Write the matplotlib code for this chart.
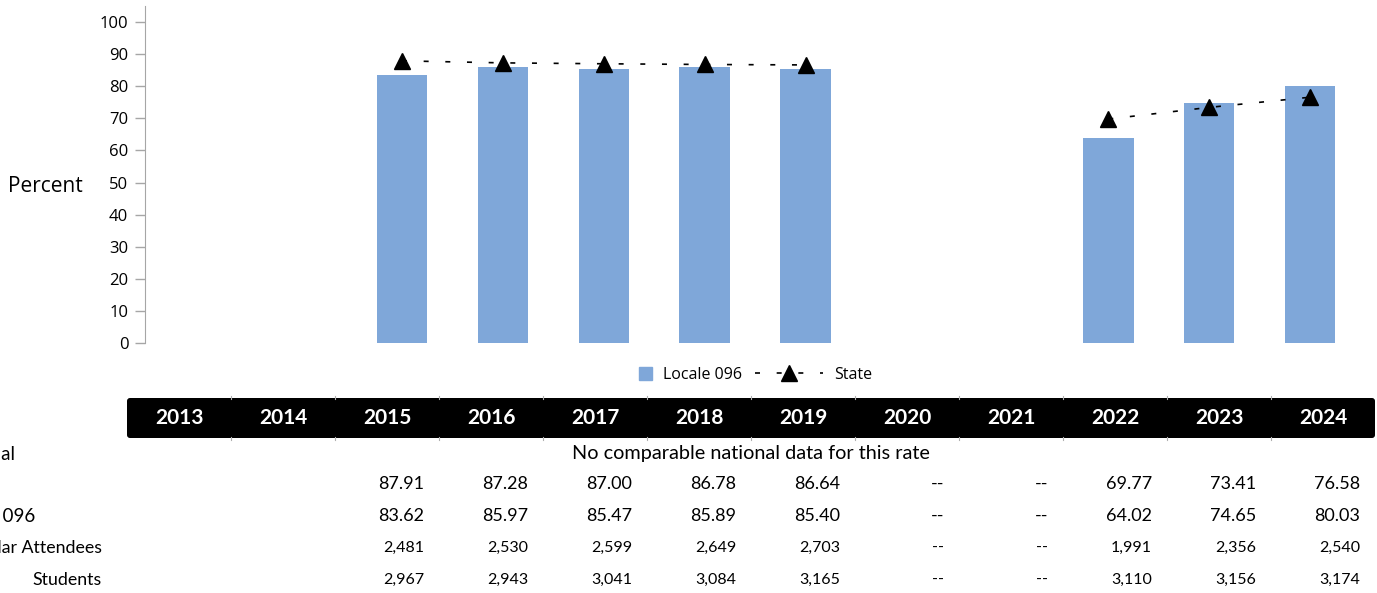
import numpy as np
import matplotlib.pyplot as plt
import matplotlib.patches as mpatches
from matplotlib.lines import Line2D
from matplotlib.legend_handler import HandlerPatch

# data
years = [2013, 2014, 2015, 2016, 2017, 2018, 2019, 2020, 2021, 2022, 2023, 2024]
locale = [np.nan, np.nan, 83.62, 85.97, 85.47, 85.89, 85.40, np.nan, np.nan, 64.02, 74.65, 80.03]
state = [np.nan, np.nan, 87.91, 87.28, 87.00, 86.78, 86.64, np.nan, np.nan, 69.77, 73.41, 76.58]
attendees = [None, None, 2481, 2530, 2599, 2649, 2703, None, None, 1991, 2356, 2540]
students = [None, None, 2967, 2943, 3041, 3084, 3165, None, None, 3110, 3156, 3174]
not_reported = [2020, 2021]
row_labels = ['National', 'State', 'Locale 096', 'Regular Attendees', 'Students']
national_note = 'No comparable national data for this rate'

bar_color = '#7FA7D9'
W, H = 1377, 593

fig = plt.figure(figsize=(W / 100, H / 100), dpi=100)

# overlay in pixel coords for the table part
tb = fig.add_axes([0, 0, 1, 1])
tb.set_xlim(0, W)
tb.set_ylim(H, 0)
tb.axis('off')

tab_left, tab_right = 127, 1375
colw = (tab_right - tab_left) / len(years)
hdr_top, hdr_bot = 398, 438
tb.add_patch(mpatches.FancyBboxPatch((tab_left, hdr_top), tab_right - tab_left, hdr_bot - hdr_top,
                                     boxstyle='round,pad=0,rounding_size=3', fc='black', ec='none'))
for i in range(1, len(years)):
    xb = tab_left + i * colw
    tb.plot([xb, xb], [hdr_top - 2, hdr_top + 1], color='#b0b0b0', lw=0.8)
    tb.plot([xb, xb], [hdr_bot - 1, hdr_bot + 2], color='#b0b0b0', lw=0.8)

tfont = 'Lato'
for i, yr in enumerate(years):
    tb.text(tab_left + (i + 0.5) * colw, (hdr_top + hdr_bot) / 2, str(yr), color='white',
            fontsize=15, fontweight='bold', family=tfont, ha='center', va='center')

row_y = [454, 484, 516, 548, 580]
tb.text((tab_left + tab_right) / 2, row_y[0], national_note, fontsize=14.3, family=tfont,
        ha='center', va='center')


def cell(i, yr, v, fmt):
    if yr in not_reported:
        return '--'
    if v is None or (isinstance(v, float) and np.isnan(v)):
        return ''
    return fmt.format(v)


for i, yr in enumerate(years):
    xr = tab_left + (i + 1) * colw - 15
    tb.text(xr, row_y[1], cell(i, yr, state[i], '{:.2f}'), fontsize=13, family=tfont, ha='right', va='center')
    tb.text(xr, row_y[2], cell(i, yr, locale[i], '{:.2f}'), fontsize=13, family=tfont, ha='right', va='center')
    tb.text(xr, row_y[3], cell(i, yr, attendees[i], '{:,}'), fontsize=11.5, family=tfont, ha='right', va='center')
    tb.text(xr, row_y[4], cell(i, yr, students[i], '{:,}'), fontsize=11.5, family=tfont, ha='right', va='center')

# row labels (left part is cut off in the original)
for lab, y, xe in zip(row_labels[:3], row_y[:3], [15, -5, 35]):
    tb.text(xe, y, lab, fontsize=13.5, family=tfont, ha='right', va='center')
for lab, y in zip(row_labels[3:], row_y[3:]):
    tb.text(102, y, lab, fontsize=12.8, family=tfont, ha='right', va='center')

# chart
ax = fig.add_axes([145 / W, (H - 343) / H, (W - 145) / W, 337 / H])
x = np.arange(len(years))
ax.bar(x, locale, width=0.5, color=bar_color, zorder=2)
ax.plot(x, state, color='black', lw=1.2, ls=(0, (3, 10)), marker='^', ms=11,
        mfc='black', mec='black', zorder=3)
ax.set_xlim(-0.547, 11.663)
ax.set_ylim(0, 105)
ax.set_yticks(range(0, 101, 10))
ax.set_xticks([])
for s in ['top', 'right', 'bottom']:
    ax.spines[s].set_visible(False)
ax.spines['left'].set_color('#a6a6a6')
ax.tick_params(axis='y', length=7, width=1, color='#a6a6a6', pad=5, labelsize=12)
for lbl in ax.get_yticklabels():
    lbl.set_family('Open Sans')
fig.text(8 / W, 1 - 186 / H, 'Percent', fontsize=15, family='Open Sans', ha='left', va='center')


# legend: small square for the bars, long dashed handle for the line
def square(legend, orig_handle, xdescent, ydescent, width, height, fontsize):
    s = height * 1.1
    return mpatches.Rectangle((width - s - xdescent, (height - s) / 2 - ydescent), s, s)


handles = [mpatches.Patch(color=bar_color, label='Locale 096'),
           Line2D([], [], color='black', lw=1.2, ls=(0, (3, 10)), marker='^', ms=11, label='State')]
fig.legend(handles=handles, loc='center left', bbox_to_anchor=(583 / W, 1 - 375 / H), ncol=2,
           frameon=False, handlelength=4.3, handletextpad=0.7, columnspacing=0.8, borderpad=0,
           borderaxespad=0, numpoints=1, prop={'family': 'Open Sans', 'size': 11.5},
           handler_map={mpatches.Patch: HandlerPatch(patch_func=square)})

plt.savefig('out.png', dpi=100)
